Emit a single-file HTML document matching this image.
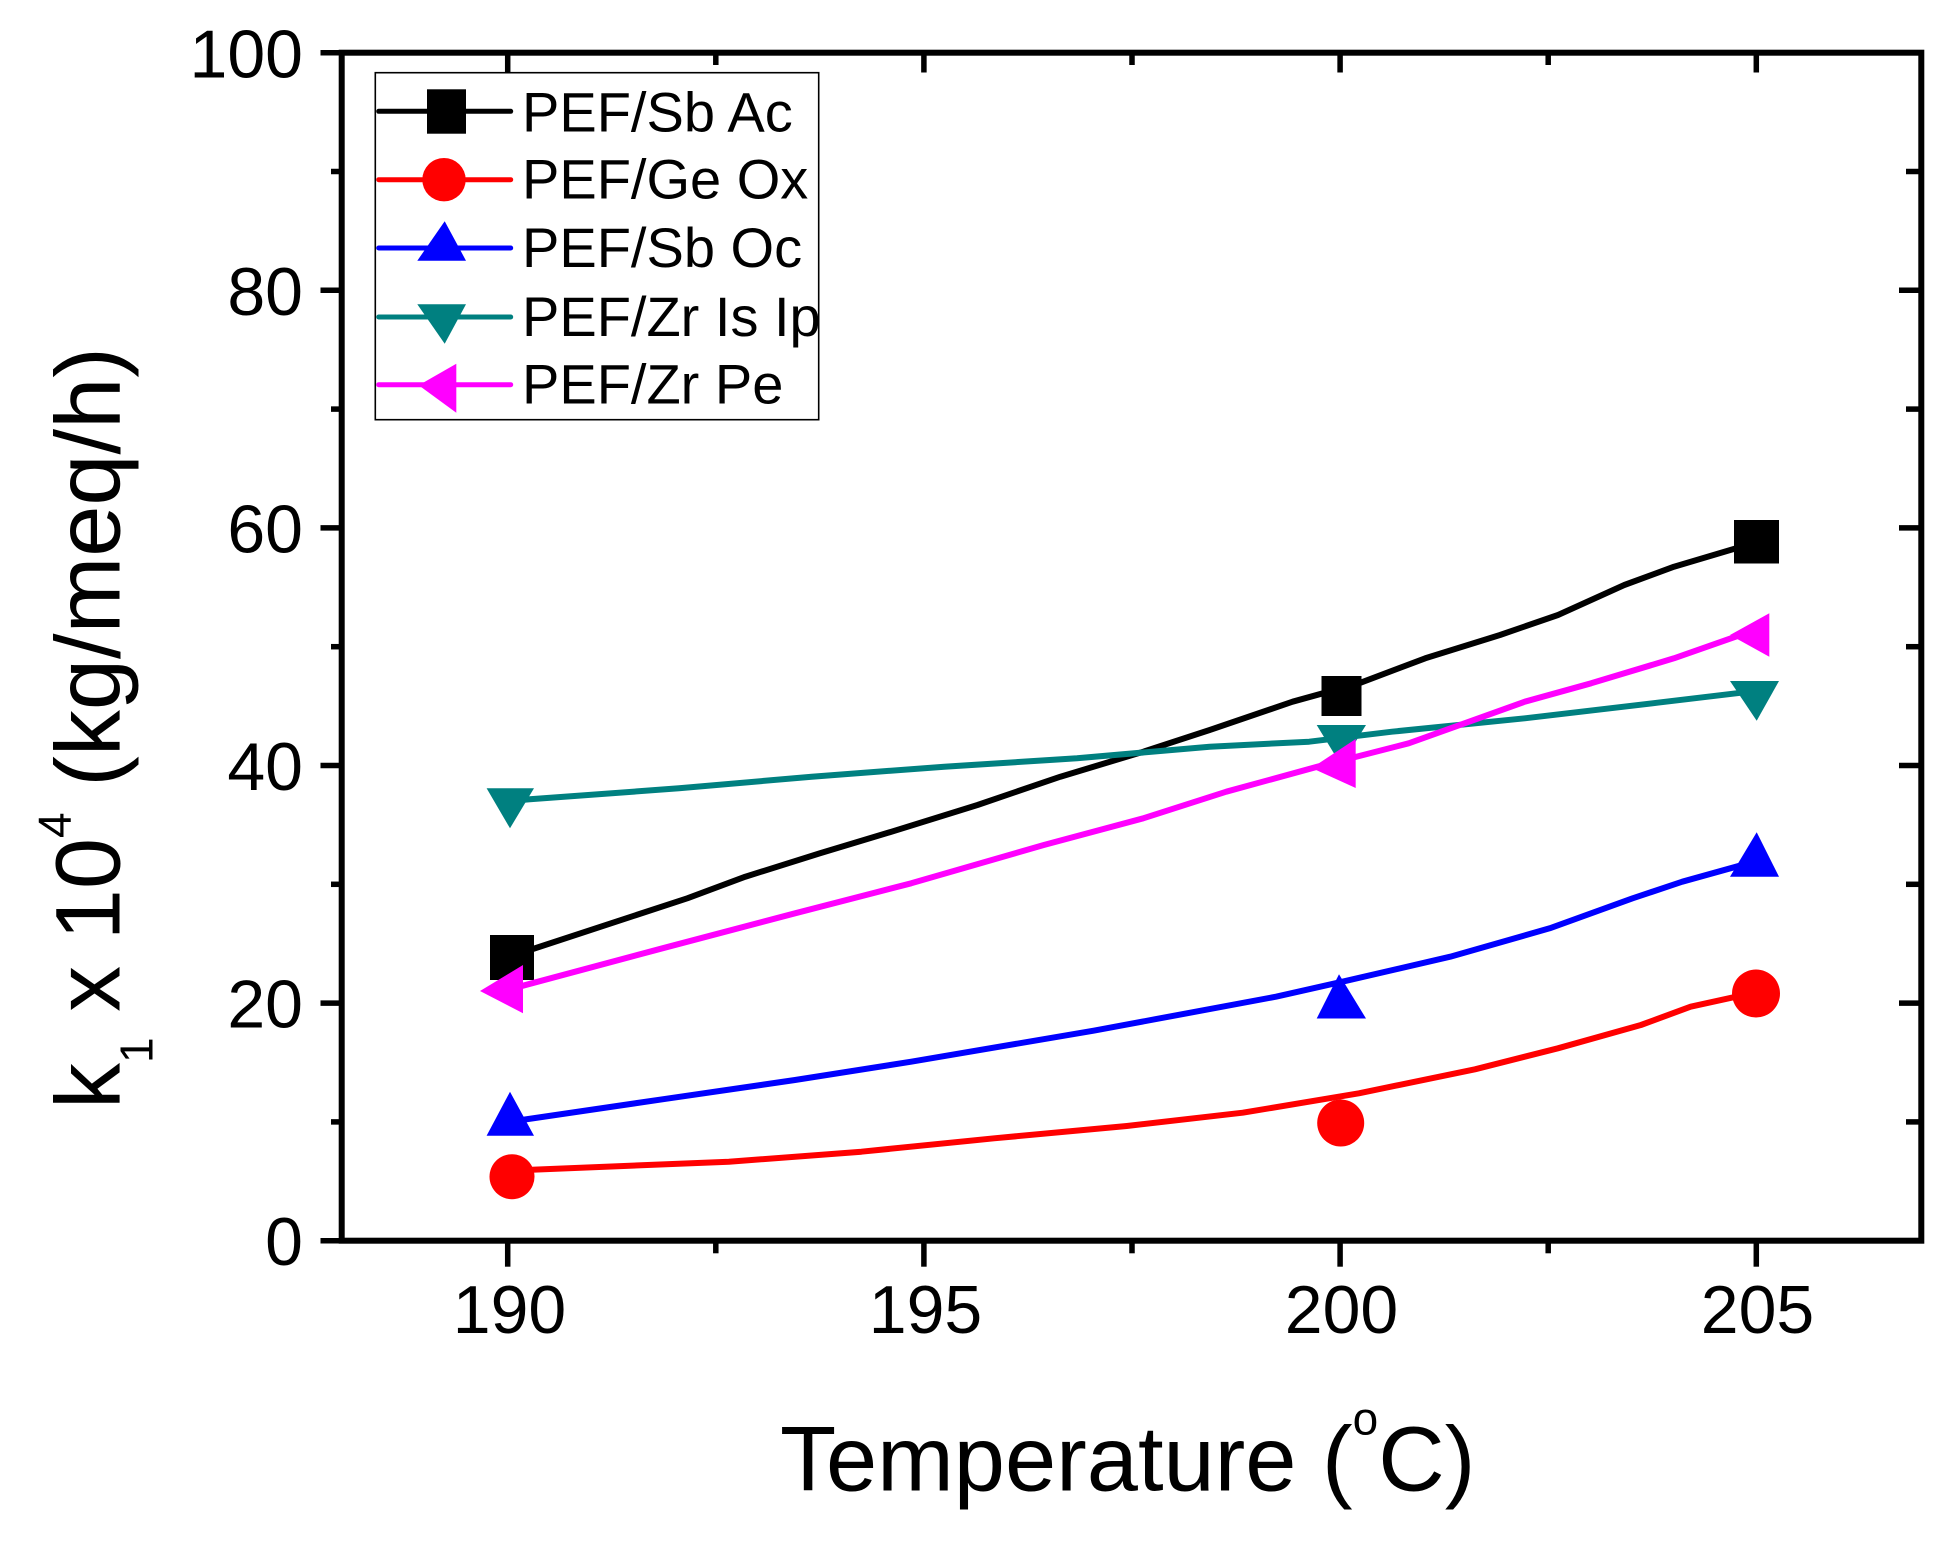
<!DOCTYPE html>
<html><head><meta charset="utf-8"><style>
html,body{margin:0;padding:0;background:#fff;}
svg{display:block;}
text{font-family:"Liberation Sans",Arial,sans-serif;fill:#000;}
</style></head><body>
<svg width="1954" height="1545" viewBox="0 0 1954 1545" xmlns="http://www.w3.org/2000/svg">
<rect width="1954" height="1545" fill="#fff"/>

<!-- series: black -->
<polyline fill="none" stroke="#000" stroke-width="6" stroke-linejoin="round" points="512,956 529.8,950 687.3,898.3 745.3,876.7 820,853.3 886.3,833.3 977.5,805 1060.4,776.7 1143.3,751.7 1209.7,730 1292.6,701.7 1359,683.3 1425.3,658.3 1500,635 1558,615 1624.3,585 1674,566.7 1736.2,548.3 1756,542"/>
<rect x="490" y="935" width="44" height="45" fill="#000"/>
<rect x="1321.5" y="676" width="40" height="40" fill="#000"/>
<rect x="1734" y="520" width="45" height="43.5" fill="#000"/>

<!-- series: red -->
<polyline fill="none" stroke="#ff0000" stroke-width="6" stroke-linejoin="round" points="512,1172 525.6,1170 728.8,1161.7 861.4,1151.7 994.1,1138.3 1126.8,1126 1242.8,1112.7 1358.9,1093.3 1475,1069.3 1557.9,1048.3 1640.9,1025 1690.6,1006.7 1736.2,996.7 1756,992"/>
<circle cx="512" cy="1176.7" r="22.5" fill="#ff0000"/>
<circle cx="1340.7" cy="1123" r="23.5" fill="#ff0000"/>
<circle cx="1756" cy="993.5" r="24" fill="#ff0000"/>

<!-- series: blue -->
<polyline fill="none" stroke="#0000ff" stroke-width="6" stroke-linejoin="round" points="510,1122 521.5,1120 662.4,1099.3 795,1080 911.2,1061.7 1093.6,1030.7 1276,996.7 1342.4,981.7 1450.2,956.7 1549.7,928.3 1632.6,898.3 1682.3,881.7 1736.2,866.7 1756,861"/>
<polygon fill="#0000ff" points="510,1091.7 486.6,1135.7 534,1135.7"/>
<polygon fill="#0000ff" points="1339,974.3 1316.7,1018.5 1366,1018.5"/>
<polygon fill="#0000ff" points="1756.7,832.3 1730,876.7 1779,876.7"/>

<!-- series: teal -->
<polyline fill="none" stroke="#008080" stroke-width="6" stroke-linejoin="round" points="510,801 529.8,799.3 679,788.3 811.7,776.7 944.3,766.7 1077,758.3 1209.7,746.7 1309.2,741.7 1392,731.7 1524.8,718.3 1657.5,702.7 1736.2,693.3 1756,691"/>
<polygon fill="#008080" points="486.6,788.3 534,788.3 510,828.3"/>
<polygon fill="#008080" points="1316.7,725 1366,725 1341,765"/>
<polygon fill="#008080" points="1730,681 1779,681 1756.7,720.7"/>

<!-- series: magenta -->
<polyline fill="none" stroke="#ff00ff" stroke-width="6" stroke-linejoin="round" points="503,990 513.2,988.3 662.4,948.3 795,913.3 911.2,883.3 1043.8,845 1143.3,818.3 1226.3,791.7 1317.5,766.7 1408.7,743.3 1524.8,701.7 1591.1,683.3 1674,658.3 1740.4,635 1756,630"/>
<polygon fill="#ff00ff" points="480,991 523,965 523,1013.3"/>
<polygon fill="#ff00ff" points="1311.7,768 1355.7,739 1355.7,788"/>
<polygon fill="#ff00ff" points="1730,635 1769.3,613.3 1769.3,656.7"/>

<!-- axes frame -->
<rect x="341.7" y="52.7" width="1579.6" height="1188" fill="none" stroke="#000" stroke-width="6"/>

<g stroke="#000" stroke-width="5.5">
<line x1="320.5" y1="1240.7" x2="342" y2="1240.7"/>
<line x1="320.5" y1="1003.1" x2="342" y2="1003.1"/>
<line x1="320.5" y1="765.5" x2="342" y2="765.5"/>
<line x1="320.5" y1="527.9" x2="342" y2="527.9"/>
<line x1="320.5" y1="290.3" x2="342" y2="290.3"/>
<line x1="320.5" y1="52.7" x2="342" y2="52.7"/>
<line x1="331" y1="1121.9" x2="342" y2="1121.9"/>
<line x1="331" y1="884.3" x2="342" y2="884.3"/>
<line x1="331" y1="646.7" x2="342" y2="646.7"/>
<line x1="331" y1="409.1" x2="342" y2="409.1"/>
<line x1="331" y1="171.5" x2="342" y2="171.5"/>

<line x1="1921" y1="1003.1" x2="1899" y2="1003.1"/>
<line x1="1921" y1="765.5" x2="1899" y2="765.5"/>
<line x1="1921" y1="527.9" x2="1899" y2="527.9"/>
<line x1="1921" y1="290.3" x2="1899" y2="290.3"/>
<line x1="1921" y1="1121.9" x2="1906" y2="1121.9"/>
<line x1="1921" y1="884.3" x2="1906" y2="884.3"/>
<line x1="1921" y1="646.7" x2="1906" y2="646.7"/>
<line x1="1921" y1="409.1" x2="1906" y2="409.1"/>
<line x1="1921" y1="171.5" x2="1906" y2="171.5"/>

<line x1="507.7" y1="1240" x2="507.7" y2="1266.7"/>
<line x1="923.9" y1="1240" x2="923.9" y2="1266.7"/>
<line x1="1340.1" y1="1240" x2="1340.1" y2="1266.7"/>
<line x1="1756.3" y1="1240" x2="1756.3" y2="1266.7"/>
<line x1="715.8" y1="1240" x2="715.8" y2="1253.3"/>
<line x1="1132" y1="1240" x2="1132" y2="1253.3"/>
<line x1="1548.2" y1="1240" x2="1548.2" y2="1253.3"/>

<line x1="507.7" y1="53" x2="507.7" y2="72.5"/>
<line x1="923.9" y1="53" x2="923.9" y2="72.5"/>
<line x1="1340.1" y1="53" x2="1340.1" y2="72.5"/>
<line x1="1756.3" y1="53" x2="1756.3" y2="72.5"/>
<line x1="715.8" y1="53" x2="715.8" y2="65"/>
<line x1="1132" y1="53" x2="1132" y2="65"/>
<line x1="1548.2" y1="53" x2="1548.2" y2="65"/>
</g>

<g font-size="68" text-anchor="end">
<text x="303" y="1265.2">0</text>
<text x="303" y="1027.6">20</text>
<text x="303" y="790">40</text>
<text x="303" y="552.4">60</text>
<text x="303" y="314.8">80</text>
<text x="303" y="77.7">100</text>
</g>

<g font-size="68" text-anchor="middle">
<text x="509.5" y="1333">190</text>
<text x="925.5" y="1333">195</text>
<text x="1341.5" y="1333">200</text>
<text x="1757.5" y="1333">205</text>
</g>

<text x="780" y="1490.7" font-size="92">Temperature (<tspan font-size="46" dy="-56">o</tspan><tspan dy="56">C)</tspan></text>

<text transform="translate(119.3,1109) rotate(-90)" font-size="92">k<tspan font-size="46" dy="33">1</tspan><tspan dy="-33"> x 10</tspan><tspan font-size="46" dy="-49">4</tspan><tspan dy="49"> (kg/meq/h)</tspan></text>

<rect x="375.3" y="72.7" width="443.4" height="347" fill="#fff" stroke="#000" stroke-width="1.6"/>
<g stroke-width="5" stroke-linecap="round">
<line x1="378.7" y1="111.3" x2="510.7" y2="111.3" stroke="#000"/>
<line x1="378.7" y1="179.7" x2="510.7" y2="179.7" stroke="#ff0000"/>
<line x1="378.7" y1="248" x2="510.7" y2="248" stroke="#0000ff"/>
<line x1="378.7" y1="317" x2="510.7" y2="317" stroke="#008080"/>
<line x1="378.7" y1="384.7" x2="510.7" y2="384.7" stroke="#ff00ff"/>
</g>
<rect x="427" y="89.3" width="39" height="44.4" fill="#000"/>
<circle cx="444" cy="179.7" r="21.7" fill="#ff0000"/>
<polygon fill="#0000ff" points="444.7,221.3 417.3,260.7 466,260.7"/>
<polygon fill="#008080" points="417.3,304.3 466,304.3 444.7,343.7"/>
<polygon fill="#ff00ff" points="418.7,385.3 456.3,363.7 456.3,412.7"/>
<g font-size="56">
<text x="522" y="131.3">PEF/Sb Ac</text>
<text x="522" y="198.7">PEF/Ge Ox</text>
<text x="522" y="267">PEF/Sb Oc</text>
<text x="522" y="336">PEF/Zr Is Ip</text>
<text x="522" y="403.7">PEF/Zr Pe</text>
</g>
</svg>
</body></html>
